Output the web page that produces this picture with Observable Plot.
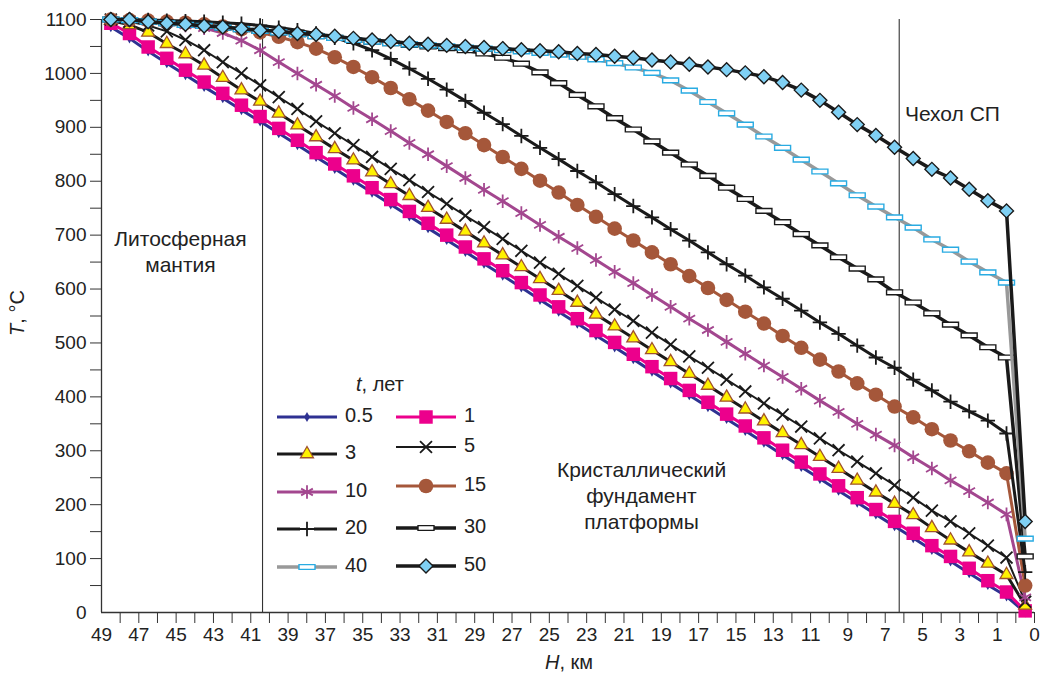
<!DOCTYPE html>
<html><head><meta charset="utf-8">
<script src="https://cdn.jsdelivr.net/npm/d3@7"></script>
<script src="https://cdn.jsdelivr.net/npm/@observablehq/plot@0.6"></script>
<style>
html,body{margin:0;padding:0;background:#fff;}
#chart{position:relative;width:1043px;height:682px;}
</style></head><body><div id="chart"></div>
<script>
// Depth H (km), one value per category slot, left to right
const depthKm = [49,48,47,46,45,44,43,42,41,40,39,38,37,36,35,34,33,32,31,30,29,28,27,26,25,24,23,22,21,20,19,18,17,16,15,14,13,12,11,10,9,8,7,6,5,4,3,2,1,0];

// Temperature T (°C) for each time t (years)
const t05 = [1086,1065,1041,1019,997,975,954,932,911,889,867,845,823,801,779,757,735,713,691,669,647,625,603,580,558,536,514,492,470,447,425,403,381,359,337,315,292,270,248,226,204,182,160,138,116,95,73,51,30,0];
const t1  = [1093,1074,1049,1028,1006,984,963,941,920,898,876,853,832,810,788,766,744,722,700,678,656,634,612,589,567,545,523,501,479,456,434,412,390,368,346,324,301,279,257,235,213,191,169,147,124,104,82,59,38,3];
const t3  = [1098,1090,1076,1055,1036,1015,992,969,948,926,904,882,860,839,817,795,773,751,729,707,685,663,641,619,597,575,553,531,509,487,465,443,421,399,377,355,333,311,289,267,245,223,202,181,157,134,112,91,70,13];
const t5  = [1100,1096,1089,1078,1062,1043,1021,1000,978,956,934,911,889,867,845,823,802,780,758,736,715,693,671,649,628,606,584,562,541,519,497,475,454,432,410,388,367,345,323,301,280,258,236,213,189,169,147,124,102,20];
const t10 = [1100,1098,1096,1093,1089,1084,1075,1061,1043,1021,1000,979,958,936,915,893,871,850,828,806,784,763,741,719,697,676,654,632,611,589,567,545,524,502,480,458,437,415,393,372,350,330,310,288,267,245,225,204,182,28];
const t15 = [1100,1099,1098,1096,1094,1091,1087,1082,1076,1068,1058,1046,1030,1012,993,973,952,931,910,889,867,845,823,801,779,756,734,712,690,668,646,624,602,580,558,536,513,491,469,447,425,404,382,362,340,319,299,278,258,50];
const t20 = [1100,1100,1099,1098,1097,1096,1094,1092,1089,1085,1080,1074,1066,1056,1043,1027,1009,990,970,949,927,906,884,862,841,819,798,776,754,733,711,690,668,646,625,603,582,560,538,517,495,473,454,432,412,391,373,356,332,75];
const t30 = [1100,1099,1096,1093,1090,1088,1085,1082,1079,1076,1073,1069,1066,1062,1059,1056,1053,1050,1047,1043,1037,1029,1018,1002,982,960,939,917,896,874,853,831,810,788,767,745,724,702,681,659,638,618,594,575,555,534,514,492,473,104];
const t40 = [1100,1099,1096,1093,1090,1088,1085,1082,1079,1076,1073,1069,1066,1062,1059,1056,1054,1052,1050,1048,1046,1043,1041,1038,1035,1031,1026,1019,1011,1001,987,968,947,926,905,883,862,840,818,796,774,753,733,714,692,673,651,631,612,137];
const t50 = [1100,1100,1096,1093,1091,1088,1086,1083,1080,1078,1074,1072,1069,1065,1062,1059,1056,1054,1052,1050,1048,1046,1044,1042,1040,1037,1035,1032,1029,1025,1021,1017,1012,1007,1001,994,983,969,950,928,905,885,863,842,822,806,785,764,745,169];

// Axis ticks: slot boundaries and their labels
const xTickValues = [49.5,48.5,47.5,46.5,45.5,44.5,43.5,42.5,41.5,40.5,39.5,38.5,37.5,36.5,35.5,34.5,33.5,32.5,31.5,30.5,29.5,28.5,27.5,26.5,25.5,24.5,23.5,22.5,21.5,20.5,19.5,18.5,17.5,16.5,15.5,14.5,13.5,12.5,11.5,10.5,9.5,8.5,7.5,6.5,5.5,4.5,3.5,2.5,1.5,0.5,-0.5];
const xTickLabels = ["49","","47","","45","","43","","41","","39","","37","","35","","33","","31","","29","","27","","25","","23","","21","","19","","17","","15","","13","","11","","9","","7","","5","","3","","1","","0"];
const yTickValues = [0,50,100,150,200,250,300,350,400,450,500,550,600,650,700,750,800,850,900,950,1000,1050,1100];
const xDomain = [49.5, -0.5];
const yDomain = [0, 1100];
// zone boundaries (km, slot coordinates)
const boundaryKm = [40.87, 6.75];
const annotations = [
  {H: 45.27, T: 672, text: "Литосферная\nмантия"},
  {H: 3.9, T: 928, text: "Чехол СП"},
  {H: 20.56, T: 219, text: "Кристаллический\nфундамент\nплатформы"}
];

const flatRect = {draw(ctx, size){ const s = Math.sqrt(size); ctx.rect(-1.1*s, -0.33*s, 2.2*s, 0.66*s); }};

const series = [
  {key:"0.5", values:t05, stroke:"#2e3192", sw:3, symbol:"diamond", r:3.1, fill:"#2e3192", mstroke:"none", msw:0},
  {key:"1", values:t1, stroke:"#ec008c", sw:3, symbol:"square", r:7.6, fill:"#ec008c", mstroke:"none", msw:0},
  {key:"3", values:t3, stroke:"#1a1a1a", sw:3, symbol:"triangle", r:4.8, fill:"#fff200", mstroke:"#a0522d", msw:1.3},
  {key:"5", values:t5, stroke:"#1a1a1a", sw:2, symbol:"times", r:5.5, fill:"none", mstroke:"#1a1a1a", msw:1.8},
  {key:"10", values:t10, stroke:"#a3478f", sw:3, symbol:"asterisk", r:6.4, fill:"none", mstroke:"#a3478f", msw:1.8},
  {key:"15", values:t15, stroke:"#a5573a", sw:3, symbol:"circle", r:7.3, fill:"#a5573a", mstroke:"none", msw:0},
  {key:"20", values:t20, stroke:"#1a1a1a", sw:3, symbol:"plus", r:4.7, fill:"none", mstroke:"#1a1a1a", msw:1.8},
  {key:"30", values:t30, stroke:"#1a1a1a", sw:3.5, symbol:flatRect, r:4.1, fill:"#ffffff", mstroke:"#1a1a1a", msw:1.4},
  {key:"40", values:t40, stroke:"#999999", sw:3.5, symbol:flatRect, r:4.1, fill:"#ffffff", mstroke:"#29abe2", msw:1.4},
  {key:"50", values:t50, stroke:"#1a1a1a", sw:3.5, symbol:"diamond2", r:6.3, fill:"#7fd0f4", mstroke:"#1a1a1a", msw:1.4}
];

const rows = series.flatMap(s => depthKm.map((h, i) => ({t: s.key, H: h, T: s.values[i]})));
const labelOf = new Map(xTickValues.map((v, i) => [v, xTickLabels[i]]));

const marks = [
  Plot.ruleX(boundaryKm, {y1: yDomain[0], y2: yDomain[1], stroke: "#333", strokeWidth: 1.1}),
  Plot.axisX({ticks: xTickValues.slice(1), tickSize: 11, tickFormat: () => "", label: null, stroke: "#333"}),
  Plot.axisX({ticks: xTickValues.filter((v, i) => xTickLabels[i] !== ""), tickSize: 0, tickPadding: 15, tickFormat: d => labelOf.get(d), label: null, fontSize: 19, fill: "#222"}),
  Plot.axisY({ticks: yTickValues.slice(1), tickSize: 11, tickFormat: () => "", label: null, stroke: "#333"}),
  Plot.axisY({ticks: yTickValues.filter(v => v % 100 === 0), tickSize: 0, tickPadding: 15, tickFormat: d => String(d), label: null, fontSize: 19, fill: "#222"}),
  Plot.ruleX([xDomain[0]], {y1: yDomain[0], y2: yDomain[1], stroke: "#333", strokeWidth: 1.3}),
  Plot.ruleY([yDomain[0]], {x1: xDomain[0], x2: xDomain[1], stroke: "#333", strokeWidth: 1.3}),
  Plot.text(annotations, {x: "H", y: "T", text: "text", fontSize: 21, lineHeight: 1.25, fill: "#222"})
];
for (const s of series) {
  const d = rows.filter(r => r.t === s.key);
  marks.push(Plot.line(d, {x: "H", y: "T", stroke: s.stroke, strokeWidth: s.sw, strokeLinejoin: "round"}));
  marks.push(Plot.dot(d, {x: "H", y: "T", symbol: s.symbol, r: s.r, fill: s.fill, stroke: s.mstroke, strokeWidth: s.msw}));
}

const chart = Plot.plot({
  width: 1043, height: 682,
  marginLeft: 101, marginRight: 9, marginTop: 19, marginBottom: 70,
  x: {type: "linear", domain: xDomain},
  y: {type: "linear", domain: yDomain},
  style: {fontFamily: "'Liberation Sans', Arial, Helvetica, sans-serif", fontSize: "19px", color: "#222", background: "#fff"},
  marks
});
document.getElementById("chart").appendChild(chart);

// axis titles and legend
const svg = d3.select(chart);
const FONT = "'Liberation Sans', Arial, Helvetica, sans-serif";
const yt = svg.append("text").attr("transform", "translate(19,313) rotate(-90)").attr("text-anchor", "middle")
  .attr("dominant-baseline", "middle").attr("font-family", FONT).attr("font-size", 20).attr("fill", "#222");
yt.append("tspan").attr("font-style", "italic").text("T");
yt.append("tspan").text(", °C");
const xt = svg.append("text").attr("x", 569).attr("y", 664).attr("text-anchor", "middle")
  .attr("dominant-baseline", "middle").attr("font-family", FONT).attr("font-size", 20).attr("fill", "#222");
xt.append("tspan").attr("font-style", "italic").text("H");
xt.append("tspan").text(", км");

const lg = svg.append("g").attr("font-family", FONT).attr("font-size", 20).attr("fill", "#222").attr("text-anchor", "start");
const lt = lg.append("text").attr("x", 356).attr("y", 386).attr("text-anchor", "start").attr("dominant-baseline", "middle");
lt.append("tspan").attr("font-style", "italic").text("t");
lt.append("tspan").text(", лет");
const legendPos = [[277,417],[396,417],[277,454],[396,447],[277,492],[396,486],[277,529],[396,528],[277,567],[396,566]];
const symMap = {diamond: d3.symbolDiamond, square: d3.symbolSquare, triangle: d3.symbolTriangle, times: d3.symbolTimes,
  asterisk: d3.symbolAsterisk, circle: d3.symbolCircle, plus: d3.symbolPlus, diamond2: d3.symbolDiamond2};
series.forEach((s, i) => {
  const [lx, ly] = legendPos[i];
  lg.append("line").attr("x1", lx).attr("x2", lx + 60).attr("y1", ly).attr("y2", ly)
    .attr("stroke", s.stroke).attr("stroke-width", s.sw);
  if (s.key === "20") {
    lg.append("rect").attr("x", lx + 23).attr("y", ly - 3).attr("width", 14).attr("height", 6).attr("fill", "#fff");
  }
  const type = typeof s.symbol === "string" ? symMap[s.symbol] : s.symbol;
  lg.append("path").attr("transform", `translate(${lx + 30},${ly})`)
    .attr("d", d3.symbol(type, s.r * s.r * Math.PI)())
    .attr("fill", s.fill).attr("stroke", s.mstroke).attr("stroke-width", s.msw);
  lg.append("text").attr("x", lx + 68).attr("y", ly).attr("text-anchor", "start").attr("dominant-baseline", "middle").text(s.key);
});
</script></body></html>
